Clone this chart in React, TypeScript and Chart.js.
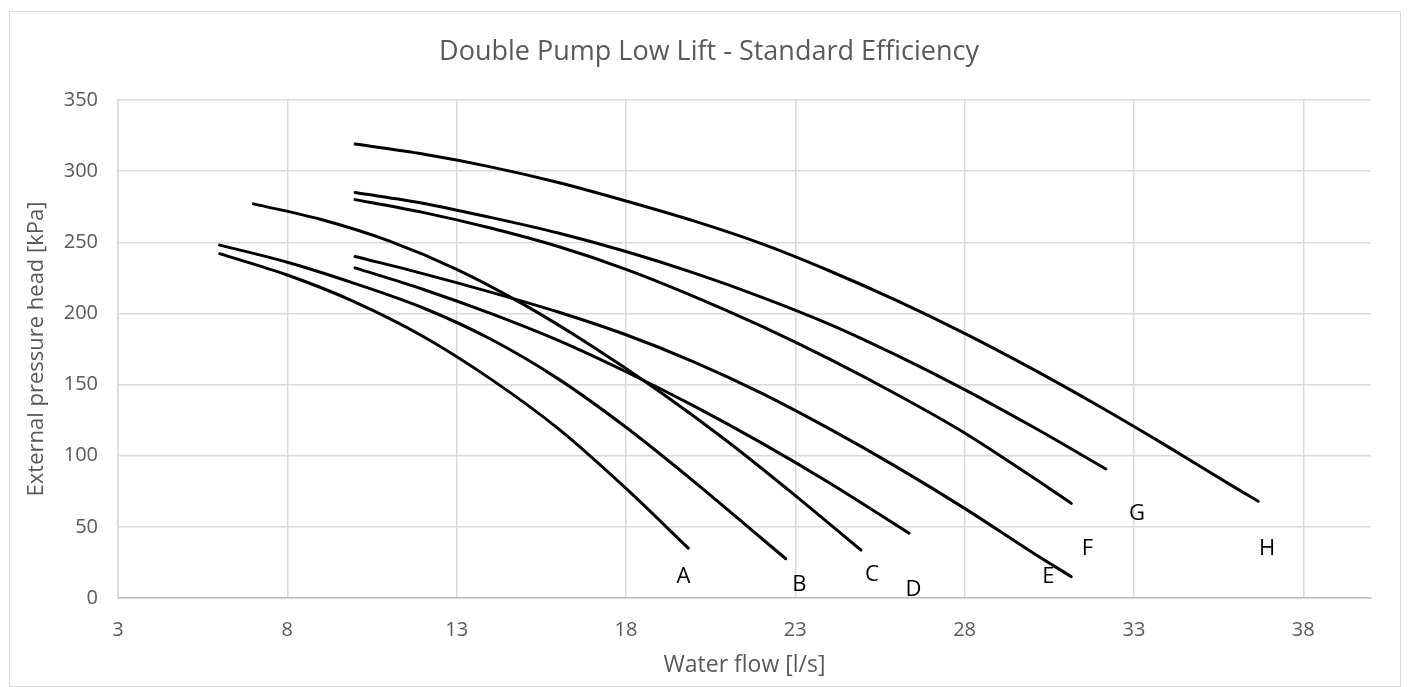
import React, { useEffect, useRef } from "react";
import { Chart, registerables } from "chart.js";

Chart.register(...registerables);

const chartTitle = "Double Pump Low Lift - Standard Efficiency";
const xAxisTitle = "Water flow [l/s]";
const yAxisTitle = "External pressure head [kPa]";

const xTickValues = [3, 8, 13, 18, 23, 28, 33, 38];

const curveNames = ["A", "B", "C", "D", "E", "F", "G", "H"];

const flowA = [6, 8, 10, 12, 14, 16, 18, 19.84];
const headA = [242, 227, 208, 184, 154, 119, 77, 35];
const flowB = [6, 8, 10, 12, 14, 16, 18, 20, 22, 22.72];
const headB = [248, 236, 221, 204, 182, 154, 120, 82, 42, 27.6];
const flowC = [7, 9, 11, 13, 15, 17, 19, 21, 23, 24.94];
const headC = [277, 266, 251, 231, 206, 177, 145, 110, 72, 33.7];
const flowD = [10, 12, 14, 16, 18, 20, 22, 24, 26.36];
const headD = [232, 217, 200, 181, 159, 135, 109, 81, 45.5];
const flowE = [10, 12, 14, 16, 18, 20, 22, 24, 26, 28, 30, 31.15];
const headE = [240, 228, 215, 201, 185, 166, 144, 119, 92, 63, 32, 15];
const flowF = [10, 12, 14, 16, 18, 20, 22, 24, 26, 28, 30, 31.15];
const headF = [280, 271, 260, 247, 231, 212, 191, 168, 143, 116, 85, 66.5];
const flowG = [10, 12, 14, 16, 18, 20, 22, 24, 26, 28, 30, 32.17];
const headG = [285, 277.5, 267.5, 256.5, 243.5, 228.5, 211.5, 192.5, 170.5, 146.5, 120.5, 90.7];
const flowH = [10, 12, 14, 16, 18, 20, 22, 24, 26, 28, 30, 32, 34, 36, 36.67];
const headH = [319, 312, 303, 292, 279, 265, 249, 230, 209, 186, 161, 134.4, 106.4, 77.4, 68];

const curveFlows = [flowA, flowB, flowC, flowD, flowE, flowF, flowG, flowH];
const curveHeads = [headA, headB, headC, headD, headE, headF, headG, headH];

// label anchor points (data coordinates)
const labelFlow = [19.7, 23.12, 25.26, 26.49, 30.47, 31.63, 33.09, 36.93];
const labelHead = [15, 9.1, 16.2, 5.6, 15, 34.9, 59.5, 34.9];

const FONT = "'Open Sans', 'DejaVu Sans', sans-serif";

const decorPlugin = {
  id: "decor",
  beforeDraw(chart: any) {
    const ctx = chart.ctx;
    ctx.save();
    ctx.fillStyle = "#ffffff";
    ctx.fillRect(0, 0, chart.width, chart.height);
    ctx.strokeStyle = "#d9d9d9";
    ctx.lineWidth = 1;
    ctx.strokeRect(9.5, 11.5, 1391, 675);
    ctx.fillStyle = "#595959";
    ctx.font = `27px ${FONT}`;
    ctx.textAlign = "center";
    ctx.textBaseline = "middle";
    ctx.fillText(chartTitle, 709, 52);
    ctx.restore();
  },
  afterDatasetsDraw(chart: any) {
    const { ctx, scales } = chart;
    const x = scales.x;
    const y = scales.y;
    ctx.save();
    ctx.fillStyle = "#000000";
    ctx.font = `22px ${FONT}`;
    ctx.textAlign = "center";
    ctx.textBaseline = "middle";
    curveNames.forEach((n, i) => {
      ctx.fillText(n, x.getPixelForValue(labelFlow[i]), y.getPixelForValue(labelHead[i]));
    });
    ctx.restore();
  },
};

export default function App() {
  const ref = useRef<HTMLCanvasElement | null>(null);

  useEffect(() => {
    if (!ref.current) return;
    const datasets = curveNames.map((name, i) => ({
      label: name,
      data: curveFlows[i].map((f, j) => ({ x: f, y: curveHeads[i][j] })),
      showLine: true,
      borderColor: "#000000",
      backgroundColor: "#000000",
      borderWidth: 3,
      borderCapStyle: "round" as const,
      borderJoinStyle: "round" as const,
      pointRadius: 0,
      cubicInterpolationMode: "monotone" as const,
      fill: false,
    }));

    const chart = new Chart(ref.current, {
      type: "scatter",
      data: { datasets },
      options: {
        responsive: false,
        animation: false,
        layout: { padding: { top: 100, right: 46, left: 0, bottom: 0 } },
        plugins: {
          legend: { display: false },
          tooltip: { enabled: false },
          title: { display: false },
        },
        scales: {
          x: {
            type: "linear",
            min: 3,
            max: 40,
            afterBuildTicks: (scale: any) => {
              scale.ticks = xTickValues.map((v) => ({ value: v }));
            },
            afterFit: (scale: any) => {
              scale.height = 89;
            },
            grid: { color: "#d9d9d9", lineWidth: 1.5, drawTicks: false },
            border: { color: "#bfbfbf", width: 1.5 },
            ticks: {
              color: "#595959",
              font: { size: 20, family: FONT },
              padding: 20,
              autoSkip: false,
              maxRotation: 0,
            },
            title: {
              display: true,
              text: xAxisTitle,
              color: "#595959",
              font: { size: 23, family: FONT },
              padding: { top: 0, bottom: 8 },
            },
          },
          y: {
            type: "linear",
            min: 0,
            max: 350,
            afterFit: (scale: any) => {
              scale.width = 118;
            },
            grid: { color: "#d9d9d9", lineWidth: 1.5, drawTicks: false },
            border: { color: "#d9d9d9", width: 1.5 },
            ticks: {
              stepSize: 50,
              color: "#595959",
              font: { size: 20, family: FONT },
              padding: 20,
            },
            title: {
              display: true,
              text: yAxisTitle,
              color: "#595959",
              font: { size: 22, family: FONT },
              padding: { top: 24, bottom: 0 },
            },
          },
        },
      },
      plugins: [decorPlugin],
    });
    return () => chart.destroy();
  }, []);

  return (
    <div style={{ position: "fixed", left: 0, top: 0, width: 1417, height: 687, background: "#fff" }}>
      <canvas ref={ref} width={1417} height={687} style={{ display: "block" }} />
    </div>
  );
}
